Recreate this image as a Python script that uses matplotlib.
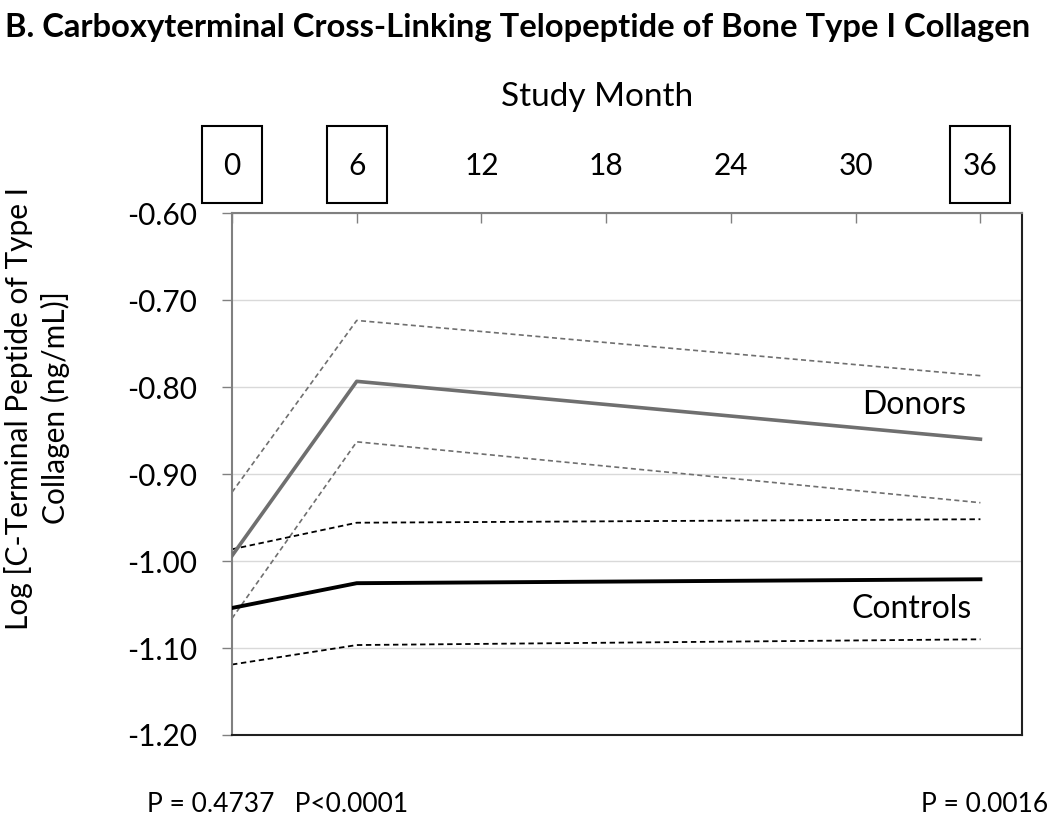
import matplotlib
matplotlib.use("Agg")
import matplotlib.pyplot as plt
from matplotlib.patches import Rectangle

plt.rcParams['font.family'] = ['Lato', 'DejaVu Sans']

months = [0, 6, 36]
donor_mean = [-0.994, -0.7935, -0.860]
donor_upper = [-0.921, -0.7235, -0.787]
donor_lower = [-1.066, -0.863, -0.933]
control_mean = [-1.054, -1.0255, -1.021]
control_upper = [-0.9865, -0.956, -0.952]
control_lower = [-1.119, -1.0966, -1.090]

xticks = [0, 6, 12, 18, 24, 30, 36]
yticks = [-0.60, -0.70, -0.80, -0.90, -1.00, -1.10, -1.20]
boxed_months = [0, 6, 36]
p_values = ["P = 0.4737   P<0.0001", "P = 0.0016"]

fig = plt.figure(figsize=(10.5, 8.16), dpi=100)
ax = fig.add_axes([232/1050, 1-735/816, (1022-232)/1050, (735-213)/816])

ax.set_xlim(0, 38)
ax.set_ylim(-1.20, -0.60)

for y in yticks:
    ax.axhline(y, color='#d9d9d9', lw=1.0, zorder=0)

gray = '#6f6f6f'
ax.plot(months, donor_upper, color=gray, lw=1.2, ls=(0, (3, 2)), zorder=2)
ax.plot(months, donor_lower, color=gray, lw=1.2, ls=(0, (3, 2)), zorder=2)
ax.plot(months, control_upper, color='black', lw=1.3, ls=(0, (3, 2)), zorder=2)
ax.plot(months, control_lower, color='black', lw=1.3, ls=(0, (3, 2)), zorder=2)
ax.plot(months, donor_mean, color=gray, lw=2.6, zorder=3)
ax.plot(months, control_mean, color='black', lw=2.8, zorder=3)

ax.text(32.8, -0.8207, "Donors", fontsize=23, ha='center', va='center')
ax.text(32.7, -1.055, "Controls", fontsize=23, ha='center', va='center')

ax.xaxis.tick_top()
ax.set_xticks(xticks)
ax.set_xticklabels([str(m) for m in xticks], fontsize=21.5)
ax.tick_params(axis='x', direction='in', length=7, width=1, color='#808080', pad=24)
ax.set_yticks(yticks)
ax.set_yticklabels([f"{y:.2f}" for y in yticks], fontsize=21.5)
ax.tick_params(axis='y', direction='out', length=7, width=1, color='#808080', pad=18)

for side in ['top', 'left']:
    ax.spines[side].set_color('#808080')
    ax.spines[side].set_linewidth(1.5)
for side in ['right', 'bottom']:
    ax.spines[side].set_color('#202020')
    ax.spines[side].set_linewidth(1.5)

for m in boxed_months:
    r = Rectangle((m - 1.44, 1.019), 2.88, 0.148, transform=ax.get_xaxis_transform(),
                  fill=False, edgecolor='black', lw=1.5, clip_on=False)
    ax.add_patch(r)

fig.text(597/1050, 1-97/816, "Study Month", fontsize=24, ha='center', va='center')
fig.text(5/1050, 1-28/816, "B. Carboxyterminal Cross-Linking Telopeptide of Bone Type I Collagen",
         fontsize=23.6, fontweight='bold', ha='left', va='center')
fig.text(37/1050, 1-408/816, "Log [C-Terminal Peptide of Type I\nCollagen (ng/mL)]",
         fontsize=21.5, rotation=90, ha='center', va='center', multialignment='center',
         linespacing=1.3)
fig.text(147/1050, 1-805/816, p_values[0], fontsize=19, ha='left', va='center')
fig.text(1048/1050, 1-805/816, p_values[1], fontsize=19, ha='right', va='center')

fig.savefig("out.png", dpi=100)
